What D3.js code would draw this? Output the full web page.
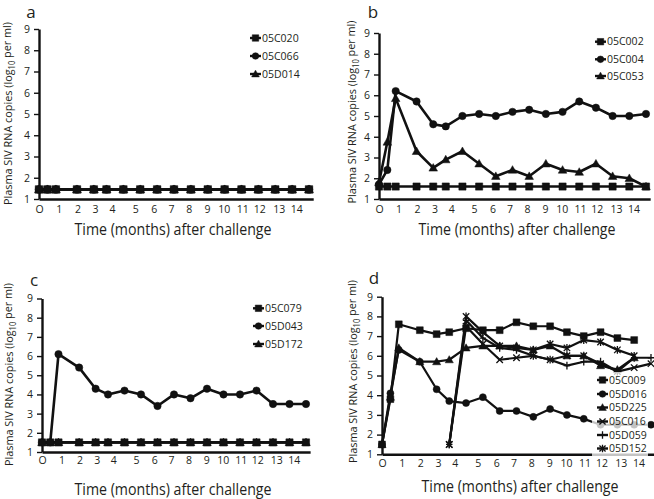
<!DOCTYPE html>
<html><head><meta charset="utf-8">
<script src="https://cdn.jsdelivr.net/npm/d3@7"></script>
<style>
body{margin:0;background:#fff}
svg{display:block}
text{font-family:"Open Sans","Noto Sans",sans-serif;fill:#231f20}
</style>
</head><body>
<script>
// ---------- data ----------
const weeks = [0, 2, 4, 9, 13, 16, 20, 24, 28, 32, 36, 40, 44, 48, 52, 56, 60, 64];
const xTickWeeks = [0, 4.7, 9.1, 13.3, 17.3, 22.8, 27.2, 31.3, 35.5, 39.8, 43.8, 48.2, 52.2, 56.8, 61];
const xTickLabels = ["O", "1", "2", "3", "4", "5", "6", "7", "8", "9", "10", "11", "12", "13", "14"];
const yTicks = [1, 2, 3, 4, 5, 6, 7, 8, 9];

const aNames = ["05C020", "05C066", "05D014"];
const a05C020 = [1.45,1.45,1.45,1.45,1.45,1.45,1.45,1.45,1.45,1.45,1.45,1.45,1.45,1.45,1.45,1.45,1.45,1.45];
const a05C066 = [1.45,1.45,1.45,1.45,1.45,1.45,1.45,1.45,1.45,1.45,1.45,1.45,1.45,1.45,1.45,1.45,1.45,1.45];
const a05D014 = [1.45,1.45,1.45,1.45,1.45,1.45,1.45,1.45,1.45,1.45,1.45,1.45,1.45,1.45,1.45,1.45,1.45,1.45];

const bNames = ["05C002", "05C004", "05C053"];
const b05C002 = [1.6,1.6,1.6,1.6,1.6,1.6,1.6,1.6,1.6,1.6,1.6,1.6,1.6,1.6,1.6,1.6,1.6,1.6];
const b05C004 = [1.7,2.4,6.2,5.7,4.6,4.5,5.0,5.1,5.0,5.2,5.3,5.1,5.2,5.7,5.4,5.0,5.0,5.1];
const b05C053 = [1.8,3.75,5.85,3.3,2.5,2.9,3.3,2.7,2.1,2.4,2.1,2.7,2.4,2.3,2.7,2.1,2.0,1.6];

const cNames = ["05C079", "05D043", "05D172"];
const c05C079 = [1.5,1.5,1.5,1.5,1.5,1.5,1.5,1.5,1.5,1.5,1.5,1.5,1.5,1.5,1.5,1.5,1.5,1.5];
const c05D043 = [1.5,1.5,6.1,5.4,4.3,4.0,4.2,4.0,3.4,4.0,3.8,4.3,4.0,4.0,4.2,3.5,3.5,3.5];
const c05D172 = [1.5,1.5,1.5,1.5,1.5,1.5,1.5,1.5,1.5,1.5,1.5,1.5,1.5,1.5,1.5,1.5,1.5,1.5];

const dNames = ["05C009", "05D016", "05D225", "05C016", "05D059", "05D152"];
const d05C009 = [1.5,3.8,7.6,7.3,7.1,7.2,7.4,7.3,7.3,7.7,7.5,7.5,7.2,7.0,7.2,6.9,6.8,null];
const d05D016 = [1.5,4.1,6.3,5.7,4.3,3.7,3.6,3.9,3.2,3.2,2.9,3.3,3.0,2.8,2.5,2.5,2.5,2.5];
const d05D225 = [1.5,3.9,6.4,5.7,5.7,5.8,6.4,6.5,6.5,6.5,6.3,6.5,6.0,6.0,5.5,5.3,5.9,null];
const d05C016 = [null,null,null,null,null,1.5,7.5,6.6,5.8,5.9,6.0,5.8,6.0,6.0,5.6,5.2,5.4,5.6];
const d05D059 = [null,null,null,null,null,1.5,7.8,6.9,6.4,6.3,6.0,5.8,5.5,5.7,5.7,5.2,5.9,5.9];
const d05D152 = [null,null,null,null,null,1.5,8.0,7.2,6.5,6.4,6.3,6.6,6.4,6.8,6.7,6.3,6.0,null];

const yTitleMain = "Plasma SIV RNA copies (log";
const yTitleSub = "10";
const yTitleEnd = " per ml)";
const xTitle = "Time (months) after challenge";

// ---------- layout ----------
const panels = [
  {letter:"a", names:aNames, series:[a05C020,a05C066,a05D014], marks:["square","circle","triangle"],
   L:{lx:31, ly:18, x0:39, x64:309, yBot:199, yTop:29, tickC:209, tX:173, tY:235, yTX:8, yTC:113.5,
      legX:250, legY:[38,56,74], lw:2.8, ms:1.05}},
  {letter:"b", names:bNames, series:[b05C002,b05C004,b05C053], marks:["square","circle","triangle"],
   L:{lx:373, ly:18, x0:379, x64:646, yBot:199, yTop:33, tickC:209, tX:517, tY:235, yTX:352, yTC:112,
      legX:595, legY:[41.7,59.3,76], lw:2.6, ms:1}},
  {letter:"c", names:cNames, series:[c05C079,c05D043,c05D172], marks:["square","circle","triangle"],
   L:{lx:34, ly:286, x0:42, x64:306, yBot:452, yTop:298.5, tickC:460, tX:173, tY:495, yTX:9, yTC:374.5,
      legX:253, legY:[308.3,326,344], lw:2.6, ms:1}},
  {letter:"d", names:dNames, series:[d05C009,d05D016,d05D225,d05C016,d05D059,d05D152],
   marks:["square","circle","triangle","times","plus","asterisk"],
   L:{lx:374, ly:284, x0:382, x64:651, yBot:454.3, yTop:296.7, tickC:463.3, tX:520, tY:492, yTX:353, yTC:371.5,
      legX:597, legY:[380,394,407.5,421.5,435,448.5], lw:2.2, ms:0.95,
      box:{x:592, y:372, w:56, h:84}}}
];

// ---------- helpers ----------
function markerPath(kind, k) {
  const p = d3.path();
  if (kind === "square") { const s = 3.6*k; p.rect(-s, -s, 2*s, 2*s); }
  else if (kind === "circle") { p.arc(0, 0, 3.7*k, 0, 2*Math.PI); }
  else if (kind === "triangle") { const s = 4.3*k; p.moveTo(0, -s); p.lineTo(s, s*0.75); p.lineTo(-s, s*0.75); p.closePath(); }
  else {
    const s = 3.4*k;
    if (kind === "times" || kind === "asterisk") { p.moveTo(-s,-s); p.lineTo(s,s); p.moveTo(-s,s); p.lineTo(s,-s); }
    if (kind === "plus" || kind === "asterisk") { p.moveTo(0,-s*1.2); p.lineTo(0,s*1.2); }
    if (kind === "plus") { p.moveTo(-s,0); p.lineTo(s,0); }
  }
  return p.toString();
}
const strokeMarker = k => (k === "times" || k === "plus" || k === "asterisk");

const svg = d3.select("body").append("svg").attr("width", 654).attr("height", 499);

panels.forEach(P => {
  const L = P.L;
  const g = svg.append("g");
  const xEnd = 65;
  const x = d3.scaleLinear().domain([0, 64]).range([L.x0, L.x64]);
  const y = d3.scaleLinear().domain([1, 9]).range([L.yBot, L.yTop]);

  // panel letter
  g.append("text").attr("x", L.lx).attr("y", L.ly).attr("text-anchor", "middle")
    .attr("font-size", 17).attr("font-family", "'Liberation Sans', Arial, sans-serif").text(P.letter);

  // y axis
  const ya = g.append("g").attr("transform", `translate(${L.x0},0)`)
    .call(d3.axisLeft(y).tickValues(yTicks).tickSize(5).tickSizeOuter(0).tickPadding(4));
  ya.select(".domain").attr("stroke", "#111").attr("stroke-width", 2.4);
  ya.selectAll(".tick line").attr("stroke", "#111").attr("stroke-width", 1.4);
  ya.selectAll(".tick text").attr("font-size", 10.5).attr("fill", "#333")
    .attr("font-family", "Lato, 'Open Sans', sans-serif");

  // x axis
  const xa = g.append("g").attr("transform", `translate(0,${L.yBot})`)
    .call(d3.axisBottom(x.copy().domain([0, xEnd]).range([L.x0, x(xEnd)]))
      .tickValues(xTickWeeks).tickFormat((d, i) => xTickLabels[i])
      .tickSize(0).tickSizeOuter(0).tickPadding(L.tickC - L.yBot - 3.6));
  xa.select(".domain").attr("stroke", "#111").attr("stroke-width", 2.4);
  xa.selectAll(".tick text").attr("font-size", 10.5).attr("fill", "#333")
    .attr("font-family", "Lato, 'Open Sans', sans-serif");

  // x title
  g.append("text").attr("x", L.tX).attr("y", L.tY).attr("text-anchor", "middle")
    .attr("font-size", 16.5).attr("textLength", 197).attr("lengthAdjust", "spacingAndGlyphs")
    .text(xTitle);

  // y title
  const yt = g.append("text").attr("transform", `translate(${L.yTX},${L.yTC}) rotate(-90)`)
    .attr("text-anchor", "middle").attr("dy", "0.36em").attr("font-size", 11.5).attr("fill", "#333")
    .attr("textLength", 183).attr("lengthAdjust", "spacingAndGlyphs");
  yt.append("tspan").text(yTitleMain);
  yt.append("tspan").attr("font-size", "70%").attr("dy", "0.35em").text(yTitleSub);
  yt.append("tspan").attr("dy", "-0.35em").text(yTitleEnd);

  // series (reverse draw order in flat panels so squares stay visible)
  const line = d3.line().defined(d => d.v != null).x(d => x(d.w)).y(d => y(d.v));
  const order = P.letter === "d" ? P.series.map((s, i) => i) : P.series.map((s, i) => i).reverse();
  order.forEach(i => {
    const pts = weeks.map((w, j) => ({w, v: P.series[i][j]}));
    g.append("path").attr("d", line(pts)).attr("fill", "none")
      .attr("stroke", "#111").attr("stroke-width", L.lw).attr("stroke-linejoin", "round");
    const kind = P.marks[i];
    g.selectAll(null).data(pts.filter(d => d.v != null)).enter().append("path")
      .attr("transform", d => `translate(${x(d.w)},${y(d.v)})`)
      .attr("d", markerPath(kind, L.ms))
      .attr("fill", strokeMarker(kind) ? "none" : "#111")
      .attr("stroke", "#111").attr("stroke-width", strokeMarker(kind) ? 1.3 : 0.5);
  });

  // legend
  if (L.box) {
    g.append("rect").attr("x", L.box.x).attr("y", L.box.y).attr("width", L.box.w).attr("height", L.box.h)
      .attr("fill", "#fff").attr("fill-opacity", 0.75);
  }
  P.names.forEach((nm, i) => {
    const ly = L.legY[i];
    g.append("line").attr("x1", L.legX).attr("x2", L.legX + 11).attr("y1", ly).attr("y2", ly)
      .attr("stroke", "#111").attr("stroke-width", 2.4);
    const kind = P.marks[i];
    g.append("path").attr("transform", `translate(${L.legX + 5.5},${ly})`)
      .attr("d", markerPath(kind, 0.9))
      .attr("fill", strokeMarker(kind) ? "none" : "#111")
      .attr("stroke", "#111").attr("stroke-width", strokeMarker(kind) ? 1.3 : 0.5);
    g.append("text").attr("x", L.legX + 12).attr("y", ly).attr("dy", "0.35em")
      .attr("font-size", 10.5).attr("fill", "#333").attr("font-family", "Lato, 'Open Sans', sans-serif")
      .text(nm);
  });
});
</script>
</body></html>
